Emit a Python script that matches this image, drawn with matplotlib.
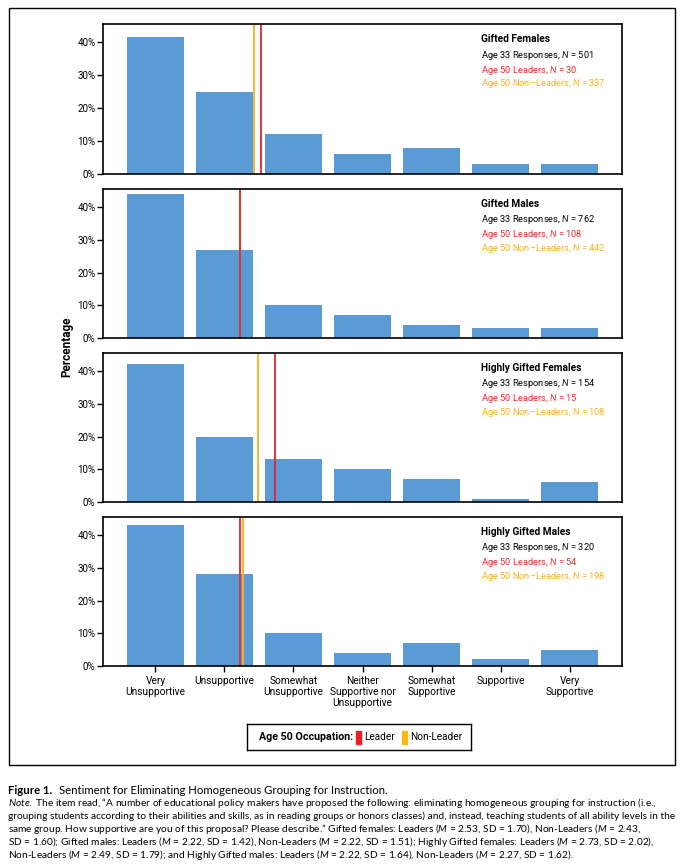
import matplotlib
matplotlib.use('Agg')
import matplotlib.pyplot as plt
from matplotlib.patches import Rectangle

plt.rcParams['font.family'] = ['Roboto', 'DejaVu Sans']
plt.rcParams['mathtext.fontset'] = 'custom'
plt.rcParams['mathtext.it'] = 'Lato:italic'
plt.rcParams['mathtext.rm'] = 'Lato'

categories = ['Very\nUnsupportive', 'Unsupportive', 'Somewhat\nUnsupportive',
              'Neither\nSupportive nor\nUnsupportive', 'Somewhat\nSupportive',
              'Supportive', 'Very\nSupportive']
yticks = [0, 10, 20, 30, 40]
ytick_labels = ['0%', '10%', '20%', '30%', '40%']

groups = ['Gifted Females', 'Gifted Males', 'Highly Gifted Females', 'Highly Gifted Males']
pct_gf = [41.5, 25, 12, 6, 8, 3, 3]
pct_gm = [44, 27, 10, 7, 4, 3, 3]
pct_hgf = [42, 20, 13, 10, 7, 1, 6]
pct_hgm = [43, 28, 10, 4, 7, 2, 5]
n_age33 = [501, 762, 154, 320]
n_leaders = [30, 108, 15, 54]
n_nonleaders = [337, 442, 108, 198]
mean_leaders = [2.53, 2.22, 2.73, 2.22]
mean_nonleaders = [2.43, 2.22, 2.49, 2.27]
pct_all = [pct_gf, pct_gm, pct_hgf, pct_hgm]

BAR = '#5b9bd5'
RED = '#e4262c'
ORANGE = '#f4b41a'

W, H = 692, 867
fig = plt.figure(figsize=(W / 100, H / 100), dpi=100)


def px_axes(x0, y0, x1, y1):
    # pixel box (top-left origin) -> figure axes
    return fig.add_axes([x0 / W, 1 - y1 / H, (x1 - x0) / W, (y1 - y0) / H])


# outer frame
fig.add_artist(Rectangle((9 / W, 1 - 765 / H), (675 - 9) / W, (765 - 8) / H,
                         transform=fig.transFigure, fill=False, lw=1.0, ec='black'))

panels = [(24, 174), (189, 338), (353, 502), (517, 666)]
xs = list(range(len(categories)))

for i, (top, bot) in enumerate(panels):
    ax = px_axes(103, top, 622, bot)
    ax.bar(xs, pct_all[i], width=0.82, color=BAR, zorder=1)
    # means on a 1..7 scale -> bar index
    ax.axvline(mean_nonleaders[i] - 1, color=ORANGE, lw=1.3, zorder=2)
    ax.axvline(mean_leaders[i] - 1, color=RED, lw=1.3, zorder=2)
    ax.set_xlim(-0.76, 6.76)
    ax.set_ylim(0, 45.5)
    ax.set_yticks(yticks)
    ax.set_yticklabels(ytick_labels, fontsize=7)
    ax.tick_params(axis='y', length=4, width=1, pad=1.5)
    for s in ax.spines.values():
        s.set_linewidth(1.2)
    if i < 3:
        ax.set_xticks([])
    else:
        ax.set_xticks(xs)
        ax.set_xticklabels(categories, fontsize=7.3, linespacing=1.15)
        ax.tick_params(axis='x', length=4, width=1, pad=3)
    tx = (481 - 103) / 519
    ax.text(tx, 0.9, groups[i], transform=ax.transAxes, fontsize=7.3,
            fontweight='bold', va='center')
    ax.text(tx, 0.793, 'Age 33 Responses, $N$ = %d' % n_age33[i],
            transform=ax.transAxes, fontsize=6.7, va='center')
    ax.text(tx, 0.693, 'Age 50 Leaders, $N$ = %d' % n_leaders[i],
            transform=ax.transAxes, fontsize=6.7, va='center', color='#ee2a2a')
    ax.text(tx, 0.6, 'Age 50 Non\u2013Leaders, $N$ = %d' % n_nonleaders[i],
            transform=ax.transAxes, fontsize=6.7, va='center', color='#fbb315')

fig.text(67 / W, 1 - 347 / H, 'Percentage', rotation=90, ha='center', va='center',
         fontsize=8.5, fontweight='bold')

# legend box
lg = px_axes(247, 724, 471, 750)
lg.set_xlim(247, 471)
lg.set_ylim(750, 724)
lg.set_xticks([])
lg.set_yticks([])
for s in lg.spines.values():
    s.set_linewidth(1.0)
lg.text(259, 737.5, 'Age 50 Occupation:', fontsize=7.7, fontweight='bold', va='center')
lg.add_patch(Rectangle((356, 731), 5, 13, color='#ee1c25'))
lg.text(364, 737.5, 'Leader', fontsize=7.2, va='center')
lg.add_patch(Rectangle((402, 731), 5, 13, color='#fdb913'))
lg.text(410, 737.5, 'Non-Leader', fontsize=7.2, va='center')

# caption
cap = ['Lato', 'DejaVu Sans']
fig.text(8 / W, 1 - 790 / H, 'Figure 1.', fontsize=8.2, fontweight='bold',
         family=cap, va='center')
fig.text(59 / W, 1 - 790 / H, 'Sentiment for Eliminating Homogeneous Grouping for Instruction.',
         fontsize=8.2, family=cap, va='center')
note = [
    '$Note.$ The item read, \u201cA number of educational policy makers have proposed the following: eliminating homogeneous grouping for instruction (i.e.,',
    'grouping students according to their abilities and skills, as in reading groups or honors classes) and, instead, teaching students of all ability levels in the',
    'same group. How supportive are you of this proposal? Please describe.\u201d Gifted females: Leaders ($M$ = 2.53, SD = 1.70), Non-Leaders ($M$ = 2.43,',
    'SD = 1.60); Gifted males: Leaders ($M$ = 2.22, SD = 1.42), Non-Leaders ($M$ = 2.22, SD = 1.51); Highly Gifted females: Leaders ($M$ = 2.73, SD = 2.02),',
    'Non-Leaders ($M$ = 2.49, SD = 1.79); and Highly Gifted males: Leaders ($M$ = 2.22, SD = 1.64), Non-Leaders ($M$ = 2.27, SD = 1.62).',
]
for k, line in enumerate(note):
    fig.text(8 / W, 1 - (803 + 13 * k) / H, line, fontsize=7.3, family=cap, va='center')

fig.savefig('out.png', dpi=100)
